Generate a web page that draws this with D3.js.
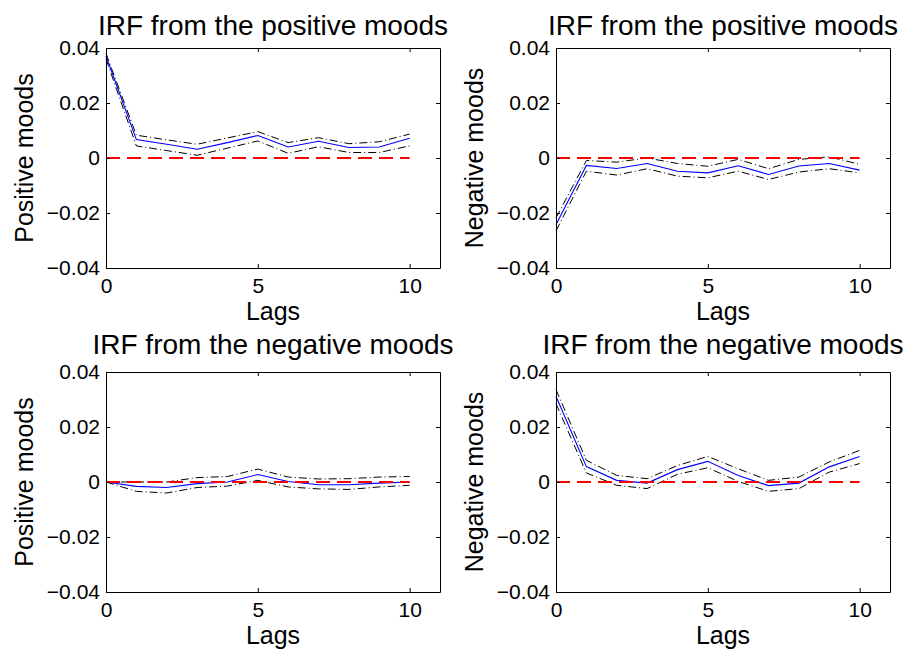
<!DOCTYPE html>
<html>
    <head>
        <meta charset="UTF-8">
        <script src="https://d3js.org/d3.v7.min.js"></script>
        <style>
            body { margin: 0; background: #fff; }
            text { font-family: "Liberation Sans", Arial, Helvetica, sans-serif; fill: #000; }
        </style>
    </head>

    <body>

        <svg id="canvas"></svg>

        <script>

            width = 909;
            height = 653;

            // horizon (lags) and axis ticks
            lags = [0, 1, 2, 3, 4, 5, 6, 7, 8, 9, 10];
            xTicks = [0, 5, 10];
            yTicks = [-0.04, -0.02, 0, 0.02, 0.04];

            titles = ["IRF from the positive moods", "IRF from the positive moods",
                      "IRF from the negative moods", "IRF from the negative moods"];
            yLabels = ["Positive moods", "Negative moods", "Positive moods", "Negative moods"];
            xLabel = "Lags";

            // response of positive moods to positive moods
            posFromPos   = [0.0371, 0.0067, 0.0050, 0.0032, 0.0056, 0.0082, 0.0040, 0.0061, 0.0038, 0.0040, 0.0072];
            posFromPosHi = [0.0380, 0.0083, 0.0066, 0.0050, 0.0073, 0.0096, 0.0056, 0.0074, 0.0052, 0.0059, 0.0087];
            posFromPosLo = [0.0360, 0.0044, 0.0027, 0.0010, 0.0036, 0.0062, 0.0017, 0.0041, 0.0020, 0.0020, 0.0044];

            // response of negative moods to positive moods
            negFromPos   = [-0.0243, -0.0027, -0.0038, -0.0020, -0.0048, -0.0054, -0.0028, -0.0060, -0.0029, -0.0020, -0.0044];
            negFromPosHi = [-0.0218, -0.0009, -0.0015, 0.0000, -0.0020, -0.0030, -0.0005, -0.0039, -0.0005, 0.0004, -0.0023];
            negFromPosLo = [-0.0265, -0.0048, -0.0062, -0.0039, -0.0066, -0.0072, -0.0048, -0.0078, -0.0051, -0.0039, -0.0054];

            // response of positive moods to negative moods
            posFromNeg   = [0, -0.0016, -0.0020, -0.0006, 0.0000, 0.0027, 0.0002, -0.0010, -0.0010, -0.0004, 0.0000];
            posFromNegHi = [0, 0.0000, 0.0000, 0.0016, 0.0020, 0.0047, 0.0018, 0.0011, 0.0012, 0.0018, 0.0020];
            posFromNegLo = [0, -0.0034, -0.0040, -0.0020, -0.0015, 0.0006, -0.0018, -0.0025, -0.0027, -0.0018, -0.0012];

            // response of negative moods to negative moods
            negFromNeg   = [0.0312, 0.0056, 0.0006, -0.0004, 0.0045, 0.0075, 0.0024, -0.0013, -0.0004, 0.0055, 0.0093];
            negFromNegHi = [0.0336, 0.0079, 0.0024, 0.0012, 0.0060, 0.0093, 0.0048, 0.0006, 0.0018, 0.0073, 0.0115];
            negFromNegLo = [0.0285, 0.0033, -0.0012, -0.0024, 0.0028, 0.0052, 0.0002, -0.0034, -0.0024, 0.0036, 0.0067];

            panels = [
                { title: titles[0], ylab: yLabels[0], mid: posFromPos, hi: posFromPosHi, lo: posFromPosLo },
                { title: titles[1], ylab: yLabels[1], mid: negFromPos, hi: negFromPosHi, lo: negFromPosLo },
                { title: titles[2], ylab: yLabels[2], mid: posFromNeg, hi: posFromNegHi, lo: posFromNegLo },
                { title: titles[3], ylab: yLabels[3], mid: negFromNeg, hi: negFromNegHi, lo: negFromNegLo }
            ];

            // layout
            colLeft = [106, 556];
            rowTop = [48, 372];
            titleY = [35, 354];
            pw = 334;
            ph = 220;

            canvas = d3.select("#canvas")
                .attr("width", width)
                .attr("height", height);

            x = d3.scaleLinear().domain([0, 11]).range([0, pw]);
            y = d3.scaleLinear().domain([-0.04, 0.04]).range([ph, 0]);

            line = d3.line()
                .x( (d, i) => x(lags[i]) )
                .y( (d) => y(d) );

            panels.forEach(function(p, k) {
                var col = k % 2, row = Math.floor(k / 2);
                var g = canvas.append("g")
                    .attr("transform", "translate(" + colLeft[col] + "," + rowTop[row] + ")");

                // confidence bands
                [p.hi, p.lo].forEach(function(band) {
                    g.append("path")
                        .datum(band)
                        .attr("d", line)
                        .attr("style", "fill:none; stroke:#000; stroke-width:1; stroke-dasharray:8,3,1,3;");
                });

                // point estimate
                g.append("path")
                    .datum(p.mid)
                    .attr("d", line)
                    .attr("style", "fill:none; stroke:#0000ff; stroke-width:1.1;");

                // zero line
                g.append("line")
                    .attr("x1", x(lags[0]))
                    .attr("x2", x(lags[lags.length - 1]))
                    .attr("y1", y(0))
                    .attr("y2", y(0))
                    .attr("style", "stroke:#ff0000; stroke-width:2.2; stroke-dasharray:14,7;");

                // box with inward ticks
                g.append("g").attr("transform", "translate(0," + ph + ")")
                    .call(d3.axisBottom(x).tickValues(xTicks).tickSizeInner(-4).tickSizeOuter(0).tickPadding(10).tickFormat(d3.format("d")));
                g.append("g")
                    .call(d3.axisLeft(y).tickValues(yTicks).tickSizeInner(-4).tickSizeOuter(0).tickPadding(6).tickFormat(d3.format("")));
                g.append("g")
                    .call(d3.axisTop(x).tickValues(xTicks).tickSizeInner(-4).tickSizeOuter(0).tickFormat(""));
                g.append("g").attr("transform", "translate(" + pw + ",0)")
                    .call(d3.axisRight(y).tickValues(yTicks).tickSizeInner(-4).tickSizeOuter(0).tickFormat(""));

                g.selectAll(".tick text").attr("style", "font-size:21px; font-family:'Liberation Sans', Arial, sans-serif; fill:#000;");
                g.selectAll(".domain, .tick line").attr("stroke", "#000").attr("stroke-width", 1);

                // title and labels
                g.append("text")
                    .attr("x", pw / 2)
                    .attr("y", titleY[row] - rowTop[row])
                    .attr("text-anchor", "middle")
                    .attr("style", "font-size:28px;")
                    .text(p.title);

                g.append("text")
                    .attr("x", pw / 2)
                    .attr("y", ph + 52)
                    .attr("text-anchor", "middle")
                    .attr("style", "font-size:25px;")
                    .text(xLabel);

                g.append("text")
                    .attr("transform", "translate(-73," + (ph / 2) + ") rotate(-90)")
                    .attr("text-anchor", "middle")
                    .attr("style", "font-size:25px;")
                    .text(p.ylab);
            });

        </script>

    </body>

</html>
